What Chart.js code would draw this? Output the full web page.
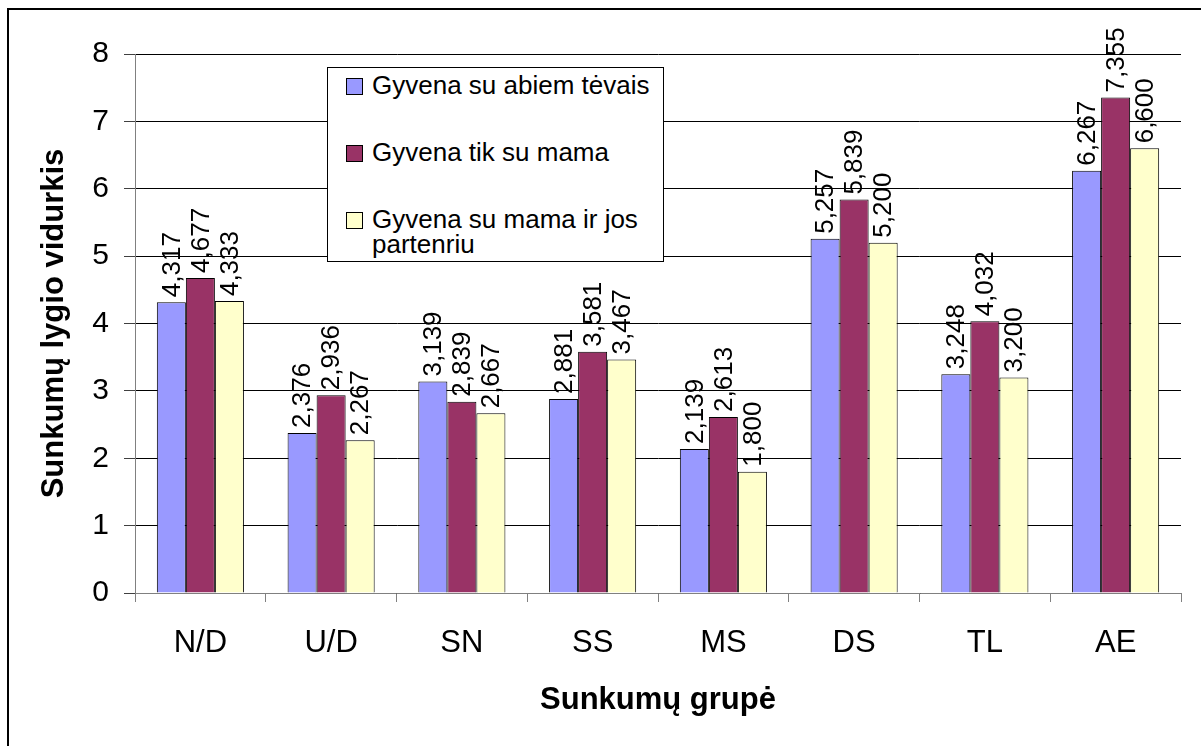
<!DOCTYPE html>
<html lang="lt">
<head>
    <meta charset="UTF-8">
    <title>Sunkumų lygio vidurkis</title>
    <script src="https://cdn.jsdelivr.net/npm/chart.js"></script>
    <style>
        html, body { margin: 0; padding: 0; background: #fff; overflow: hidden; }
        #wrap { position: relative; width: 1201px; height: 746px; }
        #frame { position: absolute; left: 7px; top: 8px; width: 1400px; height: 1000px; border: 2px solid #000; box-sizing: border-box; pointer-events: none; }
        #legend {
            position: absolute; left: 327px; top: 67px; width: 337px; height: 195px;
            box-sizing: border-box; border: 1px solid #000; background: #fff;
            font-family: "Liberation Sans", Arial, sans-serif; font-size: 26px; line-height: 25px; color: #000;
            padding-top: 5px;
        }
        .item { display: flex; align-items: flex-start; margin-bottom: 42px; padding-left: 18px; }
        .swatch { width: 15px; height: 15px; border: 1px solid #000; margin-top: 5px; margin-right: 9px; flex: none; }
        .txt { width: 280px; }
    </style>
</head>
<body>
    <div id="wrap">
        <canvas id="chart" width="1201" height="746"></canvas>
        <div id="frame"></div>
        <div id="legend"></div>
    </div>
    <script>
        const categories = ['N/D', 'U/D', 'SN', 'SS', 'MS', 'DS', 'TL', 'AE'];
        const seriesNames = ['Gyvena su abiem tėvais', 'Gyvena tik su mama', 'Gyvena su mama ir jos partenriu'];
        const bothParents = [4.317, 2.376, 3.139, 2.881, 2.139, 5.257, 3.248, 6.267];
        const onlyMother = [4.677, 2.936, 2.839, 3.581, 2.613, 5.839, 4.032, 7.355];
        const motherPartner = [4.333, 2.267, 2.667, 3.467, 1.800, 5.200, 3.200, 6.600];
        const seriesColors = ['#9999FF', '#993366', '#FFFFCC'];
        const yTicks = [0, 1, 2, 3, 4, 5, 6, 7, 8];

        const font = '"Liberation Sans", Arial, sans-serif';

        // legend built from the series names
        const legend = document.getElementById('legend');
        seriesNames.forEach((name, i) => {
            const item = document.createElement('div');
            item.className = 'item';
            item.innerHTML = '<div class="swatch" style="background:' + seriesColors[i] + '"></div><div class="txt">' + name + '</div>';
            legend.appendChild(item);
        });

        // vertical value labels above bars
        const valueLabels = {
            id: 'valueLabels',
            afterDatasetsDraw(chart) {
                const ctx = chart.ctx;
                ctx.save();
                ctx.fillStyle = '#000';
                ctx.font = '26px ' + font;
                ctx.textAlign = 'left';
                ctx.textBaseline = 'middle';
                chart.data.datasets.forEach((ds, i) => {
                    chart.getDatasetMeta(i).data.forEach((bar, j) => {
                        ctx.save();
                        ctx.translate(bar.x + 1, bar.y - 5);
                        ctx.rotate(-Math.PI / 2);
                        ctx.fillText(ds.data[j].toFixed(3).replace('.', ','), 0, 0);
                        ctx.restore();
                    });
                });
                ctx.restore();
            }
        };

        new Chart(document.getElementById('chart'), {
            type: 'bar',
            data: {
                labels: categories,
                datasets: [bothParents, onlyMother, motherPartner].map((vals, i) => ({
                    label: seriesNames[i],
                    data: vals,
                    backgroundColor: seriesColors[i],
                    borderColor: '#000',
                    borderWidth: 1,
                    categoryPercentage: 0.666,
                    barPercentage: 1
                }))
            },
            options: {
                responsive: false,
                animation: false,
                layout: { padding: { top: 54, right: 20, left: 0, bottom: 0 } },
                plugins: {
                    legend: { display: false },
                    tooltip: { enabled: false }
                },
                scales: {
                    x: {
                        afterFit(scale) { scale.height = 153; },
                        grid: { drawOnChartArea: false, drawTicks: true, tickLength: 9, tickColor: '#808080', offset: true },
                        border: { color: '#808080', width: 1 },
                        ticks: { color: '#000', font: { family: font, size: 31 }, padding: 23, maxRotation: 0 },
                        title: { display: true, text: 'Sunkumų grupė', color: '#000', font: { family: font, size: 31, weight: 'bold' }, padding: { top: 0, bottom: 27 } }
                    },
                    y: {
                        min: 0,
                        max: 8,
                        afterFit(scale) { scale.width = 135; },
                        afterBuildTicks(scale) { scale.ticks = yTicks.map(v => ({ value: v })); },
                        grid: { color: '#000', lineWidth: 1, tickLength: 11, tickColor: '#404040' },
                        border: { color: '#808080', width: 1 },
                        ticks: { color: '#000', font: { family: font, size: 30 }, padding: 15 },
                        title: { display: true, text: 'Sunkumų lygio vidurkis', color: '#000', font: { family: font, size: 31, weight: 'bold' }, padding: { top: 36, bottom: 0 } }
                    }
                }
            },
            plugins: [valueLabels]
        });
    </script>
</body>
</html>
